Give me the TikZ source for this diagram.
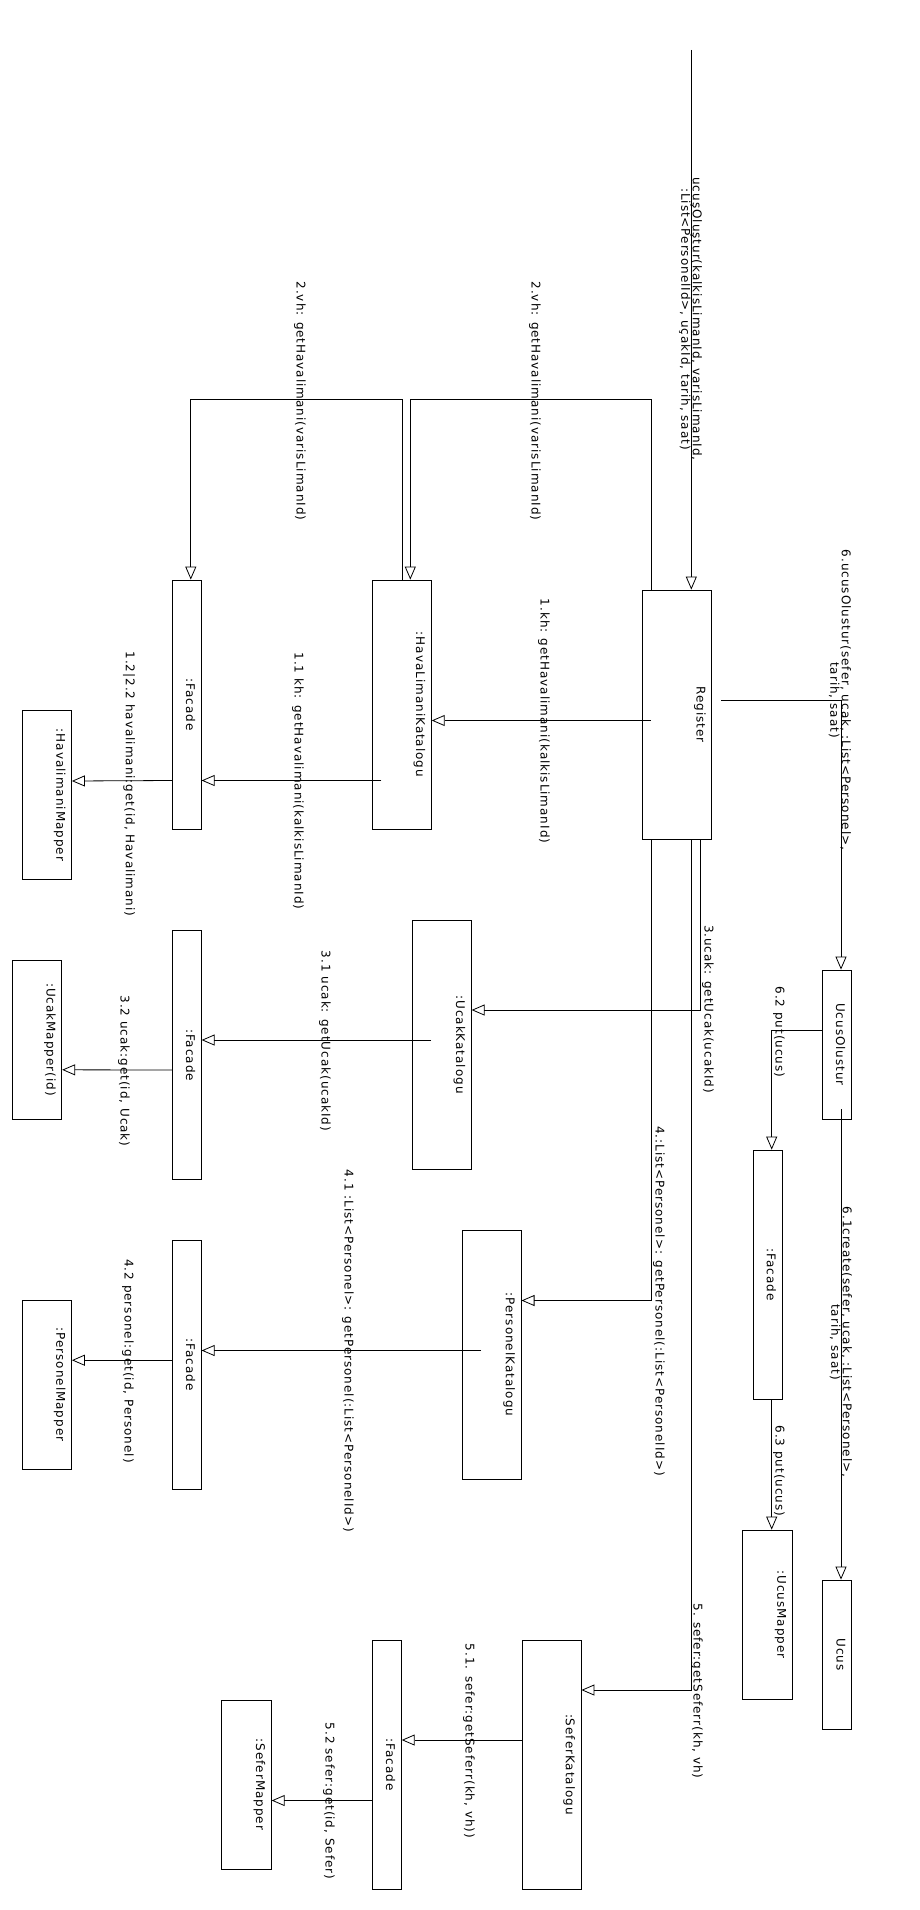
\documentclass[tikz,border=0pt]{standalone}
\usepackage{graphicx}
\usepackage{fontspec}
\setmainfont{DejaVu Sans}[LetterSpace=8]
\usepackage{tikz}
\usetikzlibrary{arrows.meta}
\setlength{\parindent}{0pt}
\newcommand{\msgfont}{\fontsize{12}{11.5}\selectfont}

\begin{document}
\begin{tikzpicture}[
    x=1pt, y=-1pt,
    objbox/.style={rectangle, draw, line width=0.8pt, inner xsep=6pt, inner ysep=0pt,
                align=right, font=\msgfont},
    katbox/.style={objbox, text width=46.6pt, minimum height=249pt},
    facbox/.style={objbox, text width=17pt, minimum height=249pt},
    mapbox/.style={objbox, text width=37.5pt, minimum height=169pt},
    ucbox/.style={objbox, text width=16.5pt, minimum height=149pt},
    msg/.style={rotate=-90, align=center, inner sep=0pt, font=\msgfont},
    call/.style={line width=0.8pt, -{Triangle[open, length=13pt, width=11pt]}}
]
    \fill[white] (0,0) rectangle (920,1910);

    % Controller
    \node[objbox, text width=57.4pt, minimum height=249pt] (reg) at (677,714.5) {\rotatebox{-90}{Register}};

    % Katalog objects
    \node[katbox] (hk) at (402,704.5) {\rotatebox{-90}{:HavaLimaniKatalogu}};
    \node[katbox] (uk) at (441.9,1044.5) {\rotatebox{-90}{:UcakKatalogu}};
    \node[katbox] (pk) at (491.8,1354.5) {\rotatebox{-90}{:PersonelKatalogu}};
    \node[katbox] (sk) at (551.7,1764.5) {\rotatebox{-90}{:SeferKatalogu}};

    % Facades
    \node[facbox] (fac1) at (186.7,704.5) {\rotatebox{-90}{:Facade}};
    \node[facbox] (fac2) at (186.7,1055) {\rotatebox{-90}{:Facade}};
    \node[facbox] (fac3) at (767.4,1274.5) {\rotatebox{-90}{:Facade}};
    \node[facbox] (fac4) at (186.7,1364.5) {\rotatebox{-90}{:Facade}};
    \node[facbox] (fac5) at (386.8,1764.5) {\rotatebox{-90}{:Facade}};

    % Mappers
    \node[mapbox] (hmap) at (46.7,795) {\rotatebox{-90}{:HavalimaniMapper}};
    \node[mapbox, minimum height=159pt] (umap) at (37,1039.5) {\rotatebox{-90}{:UcakMapper(id)}};
    \node[mapbox] (pmap) at (46.7,1384.5) {\rotatebox{-90}{:PersonelMapper}};
    \node[mapbox] (usmap) at (767.4,1614.5) {\rotatebox{-90}{:UcusMapper}};
    \node[mapbox] (smap) at (246.5,1784.5) {\rotatebox{-90}{:SeferMapper}};

    % Ucus
    \node[ucbox] (uo) at (837,1044.5) {\rotatebox{-90}{UcusOlustur}};
    \node[ucbox] (ucus) at (837,1654.5) {\rotatebox{-90}{Ucus}};

    % Messages
    \node[msg] (mIn) at (690.5,319) {ucuşOluştur(kalkisLimanId, varisLimanId,\\:List<PersonelId>, uçakId, tarih, saat)};
    \node[msg] (m2a) at (535,401) {2.vh: getHavalimani(varisLimanId)};
    \node[msg] (m2b) at (300,401) {2.vh: getHavalimani(varisLimanId)};
    \node[msg] (m6) at (840,700) {6.ucusOlustur(sefer, ucak, :List<Personel>,\\tarih, saat)};
    \node[msg] (m1) at (544,721) {1.kh: getHavalimani(kalkisLimanId)};
    \node[msg] (m11) at (298,781) {1.1 kh: getHavalimani(kalkisLimanId)};
    \node[msg] (m12) at (129,784) {1.2|2.2 havalimani:get(id, Havalimani)};
    \node[msg] (m3) at (708,1009) {3.ucak: getUcak(ucakId)};
    \node[msg] (m31) at (325,1041) {3.1 ucak: getUcak(ucakId)};
    \node[msg] (m32) at (124,1071) {3.2 ucak:get(id, Ucak)};
    \node[msg] (m62) at (779,1032) {6.2 put(ucus)};
    \node[msg] (m61) at (841,1342) {6.1create(sefer, ucak, :List<Personel>,\\tarih, saat)};
    \node[msg] (m4) at (659,1301) {4.:List<Personel>: getPersonel(:List<PersonelId>)};
    \node[msg] (m41) at (348,1351) {4.1 :List<Personel>: getPersonel(:List<PersonelId>)};
    \node[msg] (m42) at (128,1361) {4.2 personel:get(id, Personel)};
    \node[msg] (m63) at (779,1471) {6.3 put(ucus)};
    \node[msg] (m5) at (697,1691) {5. sefer:getSeferr(kh, vh)};
    \node[msg] (m51) at (469,1741) {5.1. sefer:getSeferr(kh, vh))};
    \node[msg] (m52) at (329,1801) {5.2 sefer:get(id, Sefer)};

    % Lines
    \coordinate (src) at (691.3,50);
    \draw[call] (src) -- (src |- reg.north);
    \draw[call] ([xshift=9pt]reg.north west) -- ++(0,-190) -| ([xshift=38pt]hk.north west);
    \draw[call] (hk.north) -- ++(0,-180) -| ([xshift=19pt]fac1.north west);
    \draw[call] ([xshift=9pt,yshift=-6pt]reg.west) -- ([yshift=-16pt]hk.east);
    \draw[call] ([xshift=9pt,yshift=14pt]reg.east) -| ([xshift=4pt]uo.north);
    \draw[call] ([xshift=58pt]reg.south west) |- ([yshift=34.5pt]uk.east);
    \draw[call] ([xshift=9pt]reg.south west) |- ([yshift=54pt]pk.east);
    \draw[call] ([xshift=49pt]reg.south west) |- ([yshift=74.5pt]sk.east);
    \draw[call] ([xshift=9pt,yshift=-76pt]hk.west) -- ([yshift=-76pt]fac1.east);
    \draw[call] ([yshift=-76pt]fac1.west) -- ([yshift=14pt]hmap.east);
    \draw[call] ([xshift=19pt,yshift=4.5pt]uk.west) -- ([yshift=15pt]fac2.east);
    \draw[call] ([yshift=-15pt]fac2.west) -- ([yshift=-30.3pt]umap.east);
    \draw[call] ([xshift=19pt,yshift=4pt]pk.west) -- ([yshift=14pt]fac4.east);
    \draw[call] ([yshift=4.3pt]fac4.west) -- ([yshift=24.3pt]pmap.east);
    \draw[call] ([yshift=24.5pt]sk.west) -- ([yshift=24.5pt]fac5.east);
    \draw[call] ([yshift=-36pt]fac5.west) -- ([yshift=-16pt]smap.east);
    \draw[call] ([yshift=14.5pt]uo.west) -| ([xshift=4.3pt]fac3.north);
    \draw[call] ([xshift=4.3pt]fac3.south) -- ([xshift=4.3pt]usmap.north);
    \draw[call] ([xshift=4pt,yshift=10pt]uo.south) -- ([xshift=4pt]ucus.north);
\end{tikzpicture}
\end{document}
